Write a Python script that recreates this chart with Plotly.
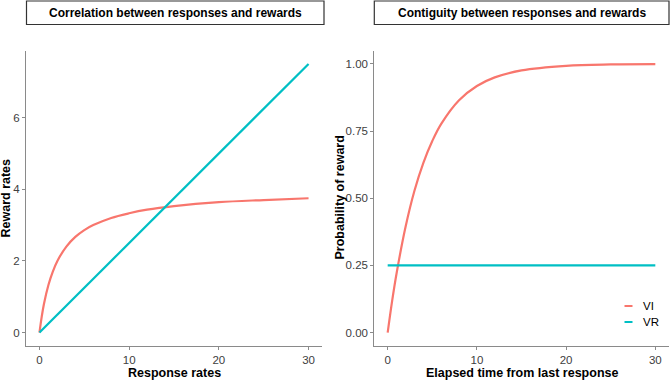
import plotly.graph_objects as go

# Left panel: correlation between responses and rewards
resp_rate = [0, 0.25, 0.5, 1, 1.5, 2, 3, 4, 5, 6, 8, 10, 12, 15, 20, 25, 30]
vi_reward = [0, 0.44, 0.80, 1.33, 1.71, 2.00, 2.40, 2.67, 2.86, 3.00, 3.20, 3.33, 3.43, 3.53, 3.64, 3.70, 3.75]
vr_resp_rate = [0, 30]
vr_reward = [0, 7.5]

# Right panel: contiguity between responses and rewards
elapsed = [0, 0.5, 1, 2, 3, 4, 5, 6, 8, 10, 12, 15, 20, 25, 30]
vi_prob = [0, 0.118, 0.221, 0.393, 0.528, 0.632, 0.713, 0.777, 0.865, 0.918, 0.950, 0.976, 0.993, 0.998, 0.999]
vr_elapsed = [0, 30]
vr_prob = [0.25, 0.25]

x_ticks = [0, 10, 20, 30]
y1_ticks = [0, 2, 4, 6]
y2_ticks = [0, 0.25, 0.5, 0.75, 1.0]
y2_labels = ["0.00", "0.25", "0.50", "0.75", "1.00"]

series_names = ["VI", "VR"]
colors = ["#F8766D", "#00BFC4"]

FONT = "Liberation Sans, Arial, sans-serif"
W, H = 672, 380

fig = go.Figure()
lw = 2.2
fig.add_trace(go.Scatter(x=resp_rate, y=vi_reward, mode="lines", line=dict(color=colors[0], width=lw, shape="spline"),
                         xaxis="x", yaxis="y", showlegend=False, name="VI"))
fig.add_trace(go.Scatter(x=vr_resp_rate, y=vr_reward, mode="lines", line=dict(color=colors[1], width=lw),
                         xaxis="x", yaxis="y", showlegend=False, name="VR"))
fig.add_trace(go.Scatter(x=elapsed, y=vi_prob, mode="lines", line=dict(color=colors[0], width=lw, shape="spline"),
                         xaxis="x2", yaxis="y2", showlegend=False, name="VI"))
fig.add_trace(go.Scatter(x=vr_elapsed, y=vr_prob, mode="lines", line=dict(color=colors[1], width=lw),
                         xaxis="x2", yaxis="y2", showlegend=False, name="VR"))

def px_x(p):
    return p / W

def px_y(p):
    return 1 - p / H

ydom = [px_y(346), px_y(50.5)]
axis_common = dict(showline=True, linecolor="#8a8a8a", linewidth=1, ticks="outside", ticklen=3,
                   tickcolor="#8a8a8a", showgrid=False, zeroline=False,
                   tickfont=dict(family=FONT, size=11.5, color="#404040"))

fig.update_layout(
    width=W, height=H, margin=dict(l=0, r=0, t=0, b=0),
    paper_bgcolor="white", plot_bgcolor="white",
    xaxis=dict(domain=[px_x(26), px_x(322)], range=[-1.5, 31.5], tickvals=x_ticks, anchor="y", **axis_common),
    yaxis=dict(domain=ydom, range=[-0.375, 7.875], tickvals=y1_ticks, anchor="x", **axis_common),
    xaxis2=dict(domain=[px_x(374.3), px_x(668.7)], range=[-1.5, 31.5], tickvals=x_ticks, anchor="y2", **axis_common),
    yaxis2=dict(domain=ydom, range=[-0.05, 1.05], tickvals=y2_ticks, ticktext=y2_labels, anchor="x2", **axis_common),
    showlegend=False,
)

shapes = []
annotations = []
# strip boxes
strips = [(26.5, 324, "Correlation between responses and rewards"),
          (374.3, 669, "Contiguity between responses and rewards")]
for x0, x1, title in strips:
    shapes.append(dict(type="rect", xref="paper", yref="paper", x0=px_x(x0), x1=px_x(x1),
                       y0=px_y(24.5), y1=px_y(1), line=dict(color="#333333", width=1.2), fillcolor="white"))
    annotations.append(dict(xref="paper", yref="paper", x=px_x((x0 + x1) / 2), y=px_y(12.8), text="<b>%s</b>" % title,
                            showarrow=False, xanchor="center", yanchor="middle",
                            font=dict(family=FONT, size=12, color="black")))

# axis titles
title_font = dict(family=FONT, size=12.5, color="black")
annotations += [
    dict(xref="paper", yref="paper", x=px_x(174), y=px_y(372.5), text="<b>Response rates</b>", showarrow=False,
         xanchor="center", yanchor="middle", font=title_font),
    dict(xref="paper", yref="paper", x=px_x(521.5), y=px_y(372.5), text="<b>Elapsed time from last response</b>",
         showarrow=False, xanchor="center", yanchor="middle", font=title_font),
    dict(xref="paper", yref="paper", x=px_x(5.5), y=px_y(198), text="<b>Reward rates</b>", showarrow=False,
         textangle=-90, xanchor="center", yanchor="middle", font=title_font),
    dict(xref="paper", yref="paper", x=px_x(339.5), y=px_y(198), text="<b>Probability of reward</b>", showarrow=False,
         textangle=-90, xanchor="center", yanchor="middle", font=title_font),
]

# manual legend
legend_y = [306, 322]
for name, col, yy in zip(series_names, colors, legend_y):
    shapes.append(dict(type="line", xref="paper", yref="paper", x0=px_x(624.5), x1=px_x(632.5),
                       y0=px_y(yy), y1=px_y(yy), line=dict(color=col, width=2)))
    annotations.append(dict(xref="paper", yref="paper", x=px_x(641), y=px_y(yy), text=name, showarrow=False,
                            xanchor="left", yanchor="middle", font=dict(family=FONT, size=11.5, color="black")))

fig.update_layout(shapes=shapes, annotations=annotations)
fig.write_html("out.html", config={"displayModeBar": False},
               post_script="document.body.style.margin='0';document.body.style.overflow='hidden';")
